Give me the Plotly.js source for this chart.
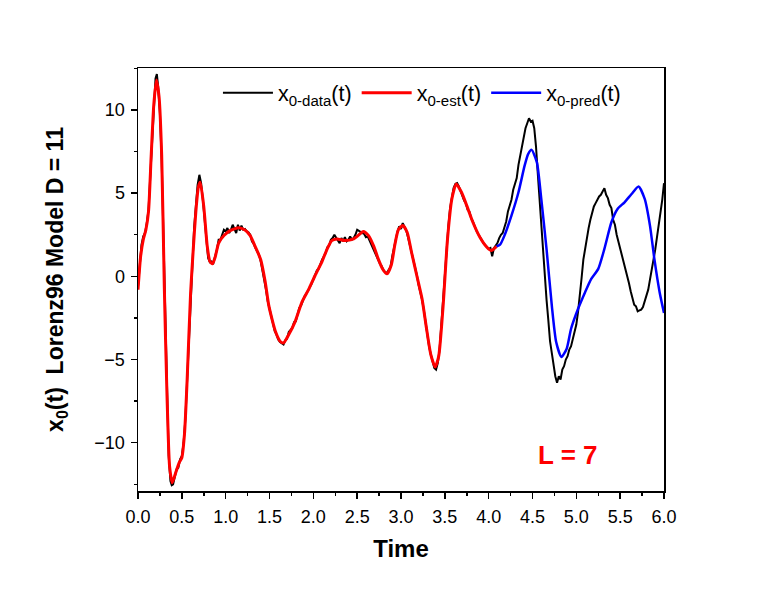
<!DOCTYPE html>
<html>
<head>
<meta charset="utf-8">
<script src="https://cdn.plot.ly/plotly-3.0.1.min.js"></script>
<style>
  body { margin: 0; background: #fff; }
  #chart { width: 772px; height: 591px; }
</style>
</head>
<body>
<div id="chart"></div>
<script>
// measured data x0(t)
var tData = [0,0.02,0.04,0.06,0.08,0.10,0.12,0.14,0.16,0.18,0.20,0.215,0.23,0.25,0.27,0.29,0.31,0.33,0.35,0.37,0.385,0.40,0.42,0.44,0.46,0.48,0.50,0.52,0.54,0.56,0.58,0.60,0.62,0.64,0.66,0.68,0.70,0.72,0.74,0.76,0.78,0.80,0.82,0.84,0.86,0.88,0.90,0.92,0.94,0.96,0.98,1.00,1.02,1.04,1.06,1.08,1.10,1.12,1.14,1.16,1.18,1.20,1.22,1.24,1.26,1.28,1.30,1.32,1.34,1.36,1.38,1.40,1.42,1.44,1.46,1.48,1.50,1.52,1.54,1.56,1.58,1.60,1.62,1.64,1.66,1.68,1.70,1.72,1.74,1.76,1.78,1.80,1.82,1.84,1.86,1.88,1.90,1.92,1.94,1.96,1.98,2.00,2.02,2.04,2.06,2.08,2.10,2.12,2.14,2.16,2.18,2.20,2.22,2.24,2.26,2.28,2.30,2.32,2.34,2.36,2.38,2.40,2.42,2.44,2.46,2.48,2.50,2.52,2.54,2.56,2.58,2.60,2.62,2.64,2.66,2.68,2.70,2.72,2.74,2.76,2.78,2.80,2.82,2.84,2.86,2.88,2.90,2.92,2.94,2.96,2.98,3.00,3.02,3.04,3.06,3.08,3.10,3.12,3.14,3.16,3.18,3.20,3.22,3.24,3.26,3.28,3.30,3.32,3.34,3.36,3.38,3.40,3.42,3.44,3.46,3.48,3.50,3.52,3.54,3.56,3.58,3.60,3.62,3.64,3.66,3.68,3.70,3.72,3.74,3.76,3.78,3.80,3.82,3.84,3.86,3.88,3.90,3.92,3.94,3.96,3.98,4.00,4.02,4.04,4.06,4.08,4.10,4.12,4.14,4.16,4.18,4.20,4.22,4.24,4.26,4.28,4.30,4.32,4.34,4.36,4.38,4.40,4.42,4.44,4.46,4.48,4.50,4.52,4.54,4.56,4.58,4.60,4.62,4.64,4.66,4.68,4.70,4.72,4.74,4.76,4.78,4.80,4.82,4.84,4.86,4.88,4.90,4.92,4.94,4.96,4.98,5.00,5.02,5.04,5.06,5.08,5.10,5.12,5.14,5.16,5.18,5.20,5.22,5.24,5.26,5.28,5.30,5.32,5.34,5.36,5.38,5.40,5.42,5.44,5.46,5.48,5.50,5.52,5.54,5.56,5.58,5.60,5.62,5.64,5.66,5.68,5.70,5.72,5.74,5.76,5.78,5.80,5.82,5.84,5.86,5.88,5.90,5.92,5.94,5.96,5.98,6.00];
var xData = [-0.6,0.8,1.9,2.4,2.6,3.2,4.0,6.0,8.3,10.4,11.9,12.15,11.4,9.8,7.0,2.5,-2.5,-7.2,-10.8,-12.3,-12.55,-12.5,-12.0,-11.6,-11.5,-11.0,-10.8,-10.0,-8.6,-6.3,-3.6,-1.0,1.2,2.9,4.2,5.5,6.1,5.6,4.6,3.3,2.0,1.1,0.85,0.9,0.8,1.2,1.6,2.2,2.2,2.5,2.8,2.7,2.9,2.6,2.8,3.1,2.8,2.6,3.1,2.75,3.05,2.8,2.85,2.7,2.65,2.5,2.1,1.95,1.7,1.5,1.3,0.9,0.4,-0.2,-0.8,-1.5,-2.0,-2.4,-2.9,-3.3,-3.5,-3.8,-3.95,-4.0,-4.1,-3.85,-3.75,-3.35,-3.2,-3.1,-2.75,-2.7,-2.3,-1.9,-1.75,-1.45,-1.2,-1.05,-0.8,-0.65,-0.45,-0.2,0.0,0.35,0.45,0.75,1.0,1.2,1.4,1.75,1.85,2.2,2.3,2.5,2.3,2.15,2.0,2.3,2.1,2.35,2.1,2.2,2.4,2.2,2.3,2.5,2.8,2.75,2.65,2.6,2.55,2.35,2.4,2.15,1.9,1.75,1.4,1.2,0.9,0.75,0.6,0.35,0.25,0.2,0.4,0.55,1.2,1.7,2.3,2.7,3.0,2.85,3.2,3.0,2.75,2.35,1.9,1.5,0.9,0.5,0.1,-0.5,-0.9,-1.4,-2.0,-2.8,-3.4,-4.2,-4.7,-5.1,-5.5,-5.6,-5.2,-4.4,-2.9,-1.4,0.4,1.8,3.0,4.1,4.8,5.3,5.55,5.6,5.4,5.1,4.9,4.55,4.4,4.0,3.9,3.5,3.3,3.0,2.75,2.55,2.4,2.2,2.0,1.9,1.8,1.65,1.7,1.2,1.7,1.85,2.0,2.3,2.5,2.6,3.0,3.3,3.9,4.3,4.6,5.2,5.6,5.9,6.7,7.3,7.8,8.4,8.9,9.2,9.5,9.3,9.35,8.9,7.8,6.2,4.6,3.0,1.4,0.0,-1.4,-2.6,-3.9,-4.6,-5.4,-6.0,-6.4,-6.0,-6.2,-5.6,-5.4,-5.0,-4.8,-4.4,-4.2,-3.7,-3.3,-2.9,-2.1,-1.2,-0.1,1.0,1.7,2.4,2.9,3.4,3.8,4.2,4.4,4.6,4.8,4.9,5.1,5.3,4.9,4.7,4.3,4.1,3.4,3.1,2.5,2.1,1.6,1.3,0.9,0.5,0.1,-0.4,-0.9,-1.3,-1.7,-1.8,-2.1,-2.05,-2.0,-1.85,-1.5,-1.1,-0.8,-0.2,0.3,1.0,1.6,2.3,3.0,3.8,4.6,5.6];

// estimated x0(t)
var tEst = [0,0.03,0.06,0.09,0.12,0.15,0.18,0.21,0.24,0.27,0.30,0.33,0.36,0.39,0.43,0.47,0.50,0.53,0.56,0.60,0.63,0.66,0.69,0.71,0.75,0.79,0.82,0.85,0.88,0.92,0.98,1.05,1.15,1.22,1.28,1.34,1.40,1.45,1.49,1.53,1.57,1.62,1.66,1.72,1.79,1.87,1.95,2.02,2.10,2.15,2.21,2.27,2.36,2.46,2.51,2.57,2.63,2.69,2.74,2.79,2.84,2.89,2.93,2.97,3.02,3.07,3.12,3.18,3.24,3.29,3.34,3.39,3.43,3.48,3.53,3.58,3.63,3.69,3.75,3.82,3.90,3.98,4.03,4.09];
var xEst = [-0.8,1.2,2.2,2.8,3.9,7.2,10.3,11.8,10.8,7.3,-0.6,-7.0,-11.4,-12.4,-11.8,-11.2,-10.9,-9.5,-6.3,-1.0,1.6,3.9,5.4,5.65,4.2,1.8,0.9,0.75,1.15,2.0,2.45,2.75,2.92,2.78,2.45,1.75,1.0,-0.3,-1.7,-2.6,-3.35,-3.9,-4.0,-3.5,-2.75,-1.55,-0.75,0.05,0.9,1.55,2.15,2.25,2.15,2.25,2.45,2.7,2.45,1.8,1.05,0.45,0.15,0.7,1.9,2.8,3.05,2.65,1.45,0.05,-1.35,-3.1,-4.7,-5.45,-4.8,-1.8,2.2,4.65,5.55,5.05,4.25,3.25,2.35,1.75,1.55,1.8];

// predicted x0(t)
var tPred = [4.09,4.13,4.18,4.26,4.34,4.41,4.45,4.49,4.55,4.60,4.66,4.72,4.77,4.83,4.89,4.94,5.02,5.10,5.17,5.25,5.32,5.40,5.47,5.55,5.63,5.71,5.78,5.84,5.89,5.95,6.00];
var xPred = [1.8,1.9,2.45,3.65,5.05,6.65,7.35,7.6,6.85,4.65,1.65,-1.75,-3.95,-4.85,-4.35,-3.15,-1.95,-0.95,-0.15,0.45,1.65,3.25,4.05,4.45,4.95,5.4,4.65,3.05,1.05,-0.95,-2.2];

var FONT = "Liberation Sans, Arial, sans-serif";

var traces = [
  {x: tData, y: xData, mode: "lines", name: "x<sub>0-data</sub>(t)", line: {color: "#000000", width: 2}},
  {x: tEst, y: xEst, mode: "lines", name: "x<sub>0-est</sub>(t)", line: {color: "#ff0000", width: 3, shape: "spline", smoothing: 0.6}},
  {x: tPred, y: xPred, mode: "lines", name: "x<sub>0-pred</sub>(t)", line: {color: "#0000ff", width: 2.5, shape: "spline", smoothing: 0.6}}
];

var layout = {
  width: 772, height: 591,
  margin: {l: 137.5, r: 107.5, t: 68, b: 100},
  paper_bgcolor: "#ffffff", plot_bgcolor: "#ffffff",
  font: {family: FONT, size: 18, color: "#000"},
  showlegend: true,
  legend: {orientation: "h", x: 0.152, y: 0.99, xanchor: "left", yanchor: "top",
           font: {family: FONT, size: 21.5, color: "#000"}, bgcolor: "rgba(0,0,0,0)",
           tracegroupgap: 0, itemwidth: 50},
  xaxis: {
    range: [0, 6], dtick: 0.5, tickformat: ".1f",
    showgrid: false, zeroline: false,
    showline: true, linecolor: "#000", linewidth: 1.5, mirror: true,
    ticks: "outside", ticklen: 6, tickwidth: 1.5, tickcolor: "#000",
    minor: {dtick: 0.25, ticks: "outside", ticklen: 3, tickwidth: 1.5, tickcolor: "#000", showgrid: false},
    tickfont: {family: FONT, size: 18},
    ticklabelstandoff: 3,
    title: {text: "<b>Time</b>", font: {family: FONT, size: 24}, standoff: 14}
  },
  yaxis: {
    range: [-12.9, 12.52], dtick: 5, tick0: 0,
    showgrid: false, zeroline: false,
    showline: true, linecolor: "#000", linewidth: 1.5, mirror: true,
    ticks: "outside", ticklen: 6, tickwidth: 1.5, tickcolor: "#000",
    minor: {dtick: 2.5, ticks: "outside", ticklen: 3, tickwidth: 1.5, tickcolor: "#000", showgrid: false},
    tickfont: {family: FONT, size: 18},
    ticklabelstandoff: 2,
    title: {text: "<b>x<sub>0</sub>(t)\u00a0\u00a0Lorenz96 Model D = 11</b>", font: {family: FONT, size: 23}, standoff: 24}
  },
  annotations: [
    {x: 4.9, y: -10.75, xref: "x", yref: "y", text: "<b>L = 7</b>", showarrow: false,
     font: {family: FONT, size: 26, color: "#ff0000"}}
  ]
};

Plotly.newPlot("chart", traces, layout, {displayModeBar: false, staticPlot: true});
</script>
</body>
</html>
